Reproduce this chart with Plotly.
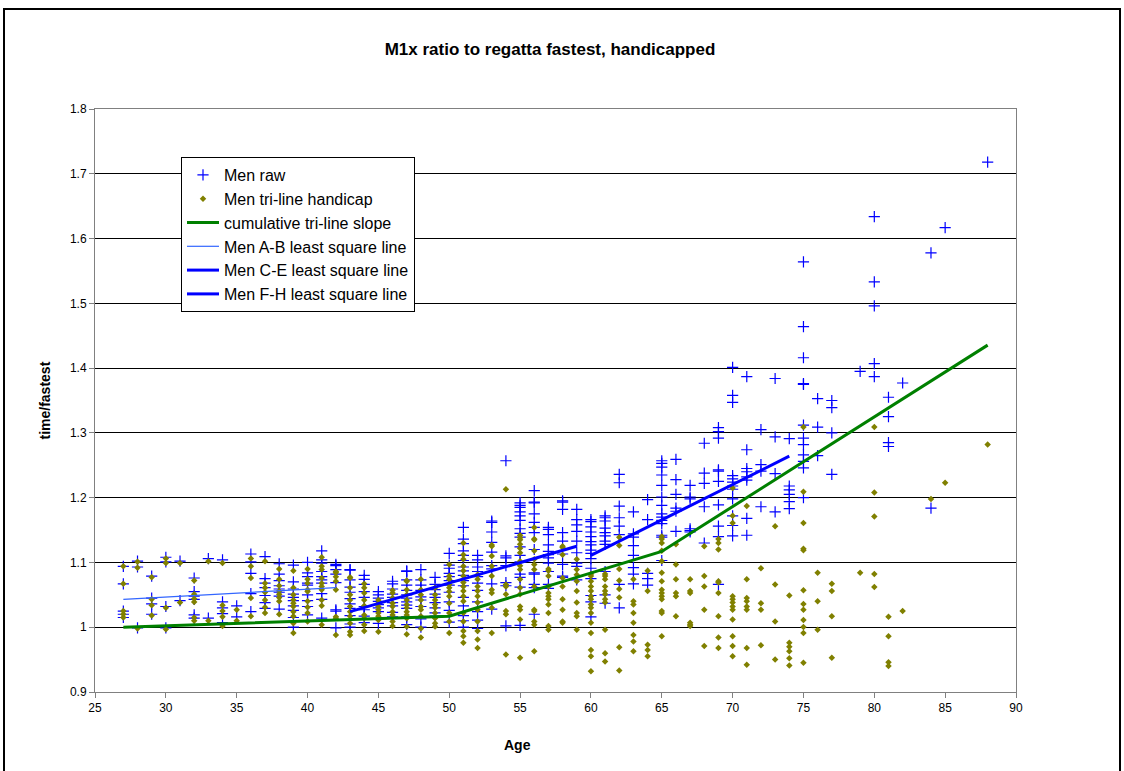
import plotly.graph_objects as go

# ---------------- data ----------------
raw_by_age = {
    27: [1.094, 1.067, 1.025, 1.020, 1.015],
    28: [1.102, 1.093, 0.999],
    29: [1.079, 1.045, 1.036, 1.020],
    30: [1.108, 1.101, 1.032, 0.999],
    31: [1.102, 1.041],
    32: [1.076, 1.055, 1.048, 1.043, 1.019, 1.014],
    33: [1.106, 1.014],
    34: [1.104, 1.039, 1.030, 1.021, 1.007],
    35: [1.033, 1.016],
    36: [1.113, 1.101, 1.083, 1.052, 1.024],
    37: [1.109, 1.075, 1.068, 1.061, 1.049, 1.038, 1.029],
    38: [1.098, 1.082, 1.072, 1.064, 1.059, 1.054, 1.048, 1.028],
    39: [1.096, 1.070, 1.059, 1.051, 1.046, 1.041, 1.033, 1.026, 1.015, 1.000],
    40: [1.100, 1.084, 1.078, 1.068, 1.065, 1.050, 1.041, 1.032, 1.019],
    41: [1.118, 1.104, 1.099, 1.086, 1.078, 1.073, 1.068, 1.052, 1.043, 1.014],
    42: [1.097, 1.095, 1.089, 1.082, 1.069, 1.027, 1.025, 0.999],
    43: [1.089, 1.088, 1.073, 1.062, 1.054, 1.044, 1.036, 1.029, 1.018, 1.005, 1.000],
    44: [1.080, 1.074, 1.066, 1.055, 1.046, 1.032, 1.027, 1.017, 1.007],
    45: [1.055, 1.050, 1.045, 1.040, 1.035, 1.030, 1.024, 1.006],
    46: [1.071, 1.067, 1.059, 1.051, 1.046, 1.038, 1.033, 1.023, 1.016],
    47: [1.087, 1.086, 1.073, 1.065, 1.057, 1.050, 1.045, 1.039, 1.034, 1.029, 1.016, 1.004],
    48: [1.089, 1.073, 1.065, 1.057, 1.047, 1.042, 1.032, 1.013, 1.000],
    49: [1.077, 1.066, 1.058, 1.051, 1.046, 1.038, 1.030, 1.022, 1.017],
    50: [1.114, 1.096, 1.091, 1.083, 1.078, 1.072, 1.065, 1.054, 1.039, 1.026, 1.008],
    51: [1.154, 1.136, 1.129, 1.118, 1.111, 1.103, 1.093, 1.087, 1.080, 1.072, 1.064, 1.046, 1.033, 1.018, 1.010, 1.000],
    52: [1.111, 1.104, 1.093, 1.086, 1.078, 1.068, 1.057, 1.039, 1.024, 1.011, 0.998],
    53: [1.164, 1.162, 1.147, 1.131, 1.116, 1.095, 1.090, 1.067, 1.028],
    54: [1.257, 1.110, 1.107, 1.095, 1.069, 1.064, 1.002],
    55: [1.192, 1.188, 1.185, 1.178, 1.172, 1.165, 1.152, 1.145, 1.139, 1.124, 1.111, 1.101, 1.082, 1.077, 1.062, 1.003],
    56: [1.192, 1.211, 1.193, 1.175, 1.162, 1.154, 1.146, 1.120, 1.084, 1.082, 1.066, 1.061, 1.020],
    57: [1.154, 1.151, 1.143, 1.127, 1.117, 1.112, 1.107, 1.099, 1.086, 1.066, 1.060],
    58: [1.195, 1.193, 1.182, 1.146, 1.133, 1.113, 1.097, 1.079, 1.077],
    59: [1.182, 1.166, 1.158, 1.148, 1.133, 1.115, 1.099, 1.094, 1.073],
    60: [1.166, 1.163, 1.155, 1.147, 1.140, 1.132, 1.127, 1.119, 1.114, 1.106, 1.091, 1.075, 1.049, 1.039, 1.016],
    61: [1.172, 1.169, 1.164, 1.153, 1.146, 1.141, 1.133, 1.128, 1.086, 1.050, 1.037],
    62: [1.236, 1.223, 1.187, 1.169, 1.156, 1.143, 1.066, 1.030],
    63: [1.178, 1.144, 1.139, 1.126, 1.111, 1.092, 1.082, 1.067],
    64: [1.197, 1.166, 1.083, 1.075, 1.065],
    65: [1.257, 1.253, 1.247, 1.235, 1.219, 1.201, 1.188, 1.175, 1.170, 1.165, 1.160, 1.142, 1.139, 1.103],
    66: [1.259, 1.228, 1.205, 1.184, 1.179, 1.148],
    67: [1.219, 1.201, 1.198, 1.152, 1.149, 1.147],
    68: [1.284, 1.238, 1.222, 1.186, 1.130],
    69: [1.308, 1.302, 1.292, 1.243, 1.241, 1.225, 1.189, 1.156, 1.140, 1.066],
    70: [1.401, 1.358, 1.347, 1.234, 1.229, 1.224, 1.218, 1.213, 1.198, 1.172, 1.157, 1.141],
    71: [1.387, 1.274, 1.245, 1.240, 1.232, 1.227, 1.168, 1.142],
    72: [1.305, 1.251, 1.241, 1.186],
    73: [1.384, 1.294, 1.237, 1.178],
    74: [1.291, 1.218, 1.212, 1.205, 1.194, 1.183],
    75: [1.564, 1.464, 1.416, 1.376, 1.375, 1.312, 1.292, 1.282, 1.266, 1.256, 1.246, 1.200],
    76: [1.353, 1.309, 1.265],
    77: [1.350, 1.339, 1.300, 1.236],
    79: [1.395],
    80: [1.634, 1.533, 1.496, 1.407, 1.387],
    81: [1.355, 1.325, 1.285, 1.279],
    82: [1.377],
    84: [1.578, 1.184],
    85: [1.617],
    88: [1.718],
}

handicap_by_age = {
    27: [1.094, 1.067, 1.025, 1.020, 1.015],
    28: [1.101, 1.092, 0.998],
    29: [1.077, 1.043, 1.034, 1.018],
    30: [1.106, 1.099, 1.030, 0.997],
    31: [1.099, 1.038],
    32: [1.072, 1.051, 1.044, 1.039, 1.015, 1.010],
    33: [1.102, 1.010],
    34: [1.099, 1.034, 1.025, 1.016, 1.002],
    35: [1.027, 1.010],
    36: [1.106, 1.094, 1.076, 1.045, 1.017],
    37: [1.102, 1.068, 1.061, 1.054, 1.042, 1.031, 1.022],
    38: [1.090, 1.074, 1.064, 1.056, 1.051, 1.046, 1.040, 1.020],
    39: [1.087, 1.061, 1.050, 1.042, 1.037, 1.032, 1.024, 1.017, 1.006, 0.991],
    40: [1.090, 1.074, 1.068, 1.058, 1.055, 1.040, 1.031, 1.022, 1.009],
    41: [1.108, 1.094, 1.089, 1.076, 1.068, 1.063, 1.058, 1.042, 1.033, 1.004],
    42: [1.086, 1.084, 1.078, 1.071, 1.058, 1.016, 1.014, 0.988],
    43: [1.077, 1.076, 1.061, 1.050, 1.042, 1.032, 1.024, 1.017, 1.006, 0.993, 0.988],
    44: [1.067, 1.061, 1.053, 1.042, 1.033, 1.019, 1.014, 1.004, 0.994],
    45: [1.042, 1.037, 1.032, 1.027, 1.022, 1.017, 1.011, 0.993],
    46: [1.057, 1.053, 1.045, 1.037, 1.032, 1.024, 1.019, 1.009, 1.002],
    47: [1.072, 1.071, 1.058, 1.050, 1.042, 1.035, 1.030, 1.024, 1.019, 1.014, 1.001, 0.989],
    48: [1.074, 1.058, 1.050, 1.042, 1.032, 1.027, 1.017, 0.998, 0.984],
    49: [1.061, 1.050, 1.042, 1.035, 1.030, 1.022, 1.014, 1.006, 1.001],
    50: [1.097, 1.079, 1.074, 1.066, 1.061, 1.055, 1.048, 1.037, 1.022, 1.009, 0.991],
    51: [1.130, 1.112, 1.105, 1.094, 1.087, 1.079, 1.069, 1.063, 1.056, 1.048, 1.040, 1.022, 1.009, 0.994, 0.986, 0.976],
    52: [1.081, 1.074, 1.063, 1.056, 1.048, 1.038, 1.027, 1.009, 0.994, 0.981, 0.968],
    53: [1.127, 1.125, 1.110, 1.094, 1.079, 1.058, 1.053, 1.030, 0.991],
    54: [1.213, 1.066, 1.063, 1.051, 1.025, 1.020, 0.958],
    55: [1.142, 1.138, 1.135, 1.128, 1.122, 1.115, 1.102, 1.095, 1.089, 1.074, 1.061, 1.051, 1.032, 1.027, 1.012, 0.953],
    56: [1.135, 1.154, 1.136, 1.118, 1.105, 1.097, 1.089, 1.063, 1.027, 1.025, 1.009, 1.004, 0.963],
    57: [1.090, 1.087, 1.079, 1.063, 1.053, 1.048, 1.043, 1.035, 1.022, 1.002, 0.996],
    58: [1.125, 1.123, 1.112, 1.076, 1.063, 1.043, 1.027, 1.009, 1.007],
    59: [1.105, 1.089, 1.081, 1.071, 1.056, 1.038, 1.022, 1.017, 0.996],
    60: [1.082, 1.079, 1.071, 1.063, 1.056, 1.048, 1.043, 1.035, 1.030, 1.022, 1.007, 0.991, 0.965, 0.955, 0.932],
    61: [1.082, 1.079, 1.074, 1.063, 1.056, 1.051, 1.043, 1.038, 0.996, 0.960, 0.947],
    62: [1.139, 1.126, 1.090, 1.072, 1.059, 1.046, 0.969, 0.933],
    63: [1.074, 1.040, 1.035, 1.022, 1.007, 0.988, 0.978, 0.963],
    64: [1.087, 1.056, 0.973, 0.965, 0.955],
    65: [1.140, 1.136, 1.130, 1.118, 1.102, 1.084, 1.071, 1.058, 1.053, 1.048, 1.043, 1.025, 1.022, 0.986],
    66: [1.128, 1.097, 1.074, 1.053, 1.048, 1.017],
    67: [1.074, 1.056, 1.053, 1.007, 1.004, 1.002],
    68: [1.125, 1.079, 1.063, 1.027, 0.971],
    69: [1.136, 1.130, 1.120, 1.071, 1.069, 1.053, 1.017, 0.984, 0.968, 0.894],
    70: [1.215, 1.172, 1.161, 1.048, 1.043, 1.038, 1.032, 1.027, 1.012, 0.986, 0.971, 0.955],
    71: [1.187, 1.074, 1.045, 1.040, 1.032, 1.027, 0.968, 0.942],
    72: [1.091, 1.037, 1.027, 0.972],
    73: [1.156, 1.066, 1.009, 0.950],
    74: [1.049, 0.976, 0.970, 0.963, 0.952, 0.941],
    75: [1.309, 1.209, 1.161, 1.121, 1.119, 1.057, 1.036, 1.027, 1.011, 1.0005, 0.991, 0.945],
    76: [1.084, 1.040, 0.996],
    77: [1.067, 1.056, 1.017, 0.953],
    79: [1.084],
    80: [1.309, 1.208, 1.171, 1.082, 1.062],
    81: [1.016, 0.986, 0.946, 0.940],
    82: [1.025],
    84: [1.198, 0.804],
    85: [1.223],
    88: [1.282],
}

# cumulative tri-line slope (green)
tri_age = [27, 50, 65, 88]
tri_val = [1.000, 1.017, 1.117, 1.4355]

# least square lines
ab_age = [27, 42]
ab_val = [1.043, 1.061]
ce_age = [43, 59]
ce_val = [1.024, 1.125]
fh_age = [60, 74]
fh_val = [1.111, 1.264]

x_ticks = [25, 30, 35, 40, 45, 50, 55, 60, 65, 70, 75, 80, 85, 90]
y_ticks = [0.9, 1.0, 1.1, 1.2, 1.3, 1.4, 1.5, 1.6, 1.7, 1.8]
y_ticktext = ["0.9", "1", "1.1", "1.2", "1.3", "1.4", "1.5", "1.6", "1.7", "1.8"]

# ---------------- flatten ----------------
raw_x, raw_y = [], []
for a, vals in raw_by_age.items():
    for v in vals:
        raw_x.append(a)
        raw_y.append(v)
hc_x, hc_y = [], []
for a, vals in handicap_by_age.items():
    for v in vals:
        hc_x.append(a)
        hc_y.append(v)

FONT = "Arial, Liberation Sans, sans-serif"

fig = go.Figure()
fig.add_trace(go.Scatter(
    x=raw_x, y=raw_y, mode="markers", name="Men raw",
    marker=dict(symbol="cross-thin", size=8, color="#0000FF",
                line=dict(color="#0000FF", width=1.2)),
))
fig.add_trace(go.Scatter(
    x=hc_x, y=hc_y, mode="markers", name="Men tri-line handicap",
    marker=dict(symbol="diamond", size=5, color="#808000", line=dict(width=0)),
))
fig.add_trace(go.Scatter(
    x=tri_age, y=tri_val, mode="lines", name="cumulative tri-line slope",
    line=dict(color="#008000", width=3),
))
fig.add_trace(go.Scatter(
    x=ab_age, y=ab_val, mode="lines", name="Men A-B least square line",
    line=dict(color="#3366FF", width=1.2),
))
fig.add_trace(go.Scatter(
    x=ce_age, y=ce_val, mode="lines", name="Men C-E least square line",
    line=dict(color="#0000FF", width=3),
))
fig.add_trace(go.Scatter(
    x=fh_age, y=fh_val, mode="lines", name="Men F-H least square line",
    line=dict(color="#0000FF", width=3),
))

L, R, T, B = 95, 1016, 109, 692
W, H = 1124, 771
pw, ph = R - L, B - T

def px_x(p):
    return (p - L) / pw

def px_y(p):
    return (B - p) / ph

fig.update_layout(
    width=W, height=H,
    margin=dict(l=L, r=W - R, t=T, b=H - B, pad=0),
    paper_bgcolor="white", plot_bgcolor="white",
    font=dict(family=FONT, size=12, color="black"),
    title=dict(text="M1x ratio to regatta fastest, handicapped",
               font=dict(family=FONT, size=17, color="black", weight="bold"),
               x=550 / W, xref="container", xanchor="center",
               y=1 - 49 / H, yref="container", yanchor="middle"),
    showlegend=True,
    legend=dict(x=px_x(181), y=px_y(157), xanchor="left", yanchor="top",
                bgcolor="white", bordercolor="black", borderwidth=1,
                font=dict(family=FONT, size=16, color="black"),
                tracegroupgap=0, itemwidth=32, traceorder="normal"),
    xaxis=dict(range=[25, 90], tickvals=x_ticks, ticks="outside", ticklen=5,
               tickcolor="#808080", showline=True, linecolor="#808080", linewidth=1,
               mirror=True, showgrid=False, zeroline=False,
               tickfont=dict(family=FONT, size=12, color="black")),
    yaxis=dict(range=[0.9, 1.8], tickvals=y_ticks, ticktext=y_ticktext,
               ticks="outside", ticklen=5, tickcolor="#808080",
               showline=True, linecolor="#808080", linewidth=1, mirror=True,
               showgrid=True, gridcolor="black", gridwidth=1, zeroline=False,
               tickfont=dict(family=FONT, size=12, color="black")),
    shapes=[dict(type="rect", xref="paper", yref="paper",
                 x0=px_x(4), x1=px_x(1120), y0=px_y(790), y1=px_y(9),
                 line=dict(color="black", width=2), fillcolor="rgba(0,0,0,0)",
                 layer="above")],
    annotations=[
        dict(text="time/fastest", xref="paper", yref="paper",
             x=px_x(44), y=0.5, xanchor="center", yanchor="middle",
             textangle=-90, showarrow=False,
             font=dict(family=FONT, size=14, color="black", weight="bold")),
        dict(text="Age", xref="paper", yref="paper",
             x=px_x(517), y=px_y(745), xanchor="center", yanchor="middle",
             showarrow=False,
             font=dict(family=FONT, size=14, color="black", weight="bold")),
    ],
)

fig.write_html("out.html")
